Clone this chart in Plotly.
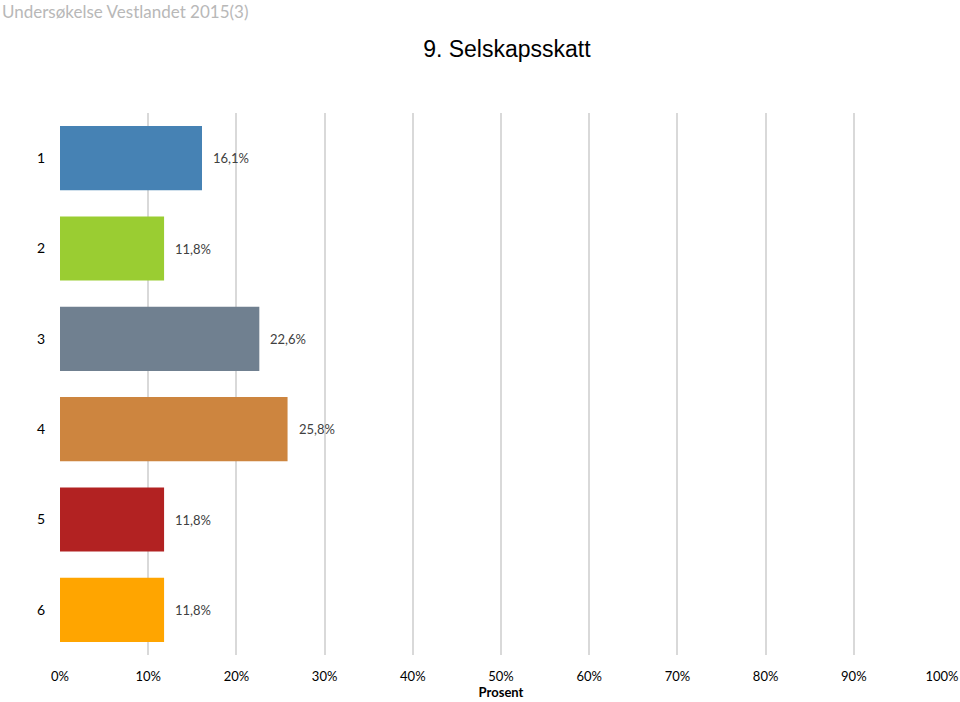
import plotly.graph_objects as go

categories = ["1", "2", "3", "4", "5", "6"]
values = [16.1, 11.8, 22.6, 25.8, 11.8, 11.8]
colors = ["#4682B4", "#9ACD32", "#708090", "#CD853F", "#B22222", "#FFA500"]
x_ticks = list(range(0, 101, 10))
x_tick_labels = [f"{t}%" for t in x_ticks]
label_texts = [f"{v:.1f}%".replace(".", ",") for v in values]

font_family = "Lato, Open Sans, sans-serif"

fig = go.Figure()
fig.add_trace(go.Bar(
    x=values, y=categories, orientation="h",
    marker=dict(color=colors, line=dict(width=0)),
    hoverinfo="skip",
))

for i, (v, t) in enumerate(zip(values, label_texts)):
    fig.add_annotation(x=v, y=i, text=t, showarrow=False, xanchor="left",
                       xshift=9, font=dict(size=13, color="#404040", family=font_family))

fig.update_layout(
    width=960, height=702,
    margin=dict(l=60, r=18, t=113, b=47),
    paper_bgcolor="white", plot_bgcolor="white",
    bargap=0.29,
    showlegend=False,
    title=dict(text="9. Selskapsskatt", x=0.528, xanchor="center", y=0.93, yanchor="middle",
               font=dict(size=23, color="#000000", family="Liberation Sans Narrow, Liberation Sans, Arial, sans-serif")),
    xaxis=dict(range=[0, 100], tickvals=x_ticks, ticktext=x_tick_labels, automargin=False,
               showgrid=True, gridcolor="#d9d9d9", gridwidth=1.5, zeroline=False,
               showline=False, ticklabelstandoff=12,
               tickfont=dict(size=13, color="#000000", family=font_family),
               title=dict(text="<b>Prosent</b>", standoff=4,
                          font=dict(size=13, color="#000000", family=font_family))),
    yaxis=dict(type="category", categoryorder="array", categoryarray=categories, autorange="reversed",
               automargin=False,
               showgrid=False, zeroline=False, showline=False, ticklabelstandoff=14,
               tickfont=dict(size=14, color="#000000", family=font_family)),
)

fig.add_annotation(xref="paper", yref="paper", x=-60/882, y=1 + 113/542, xanchor="left", yanchor="top",
                   yshift=1, text="Undersøkelse Vestlandet 2015(3)", showarrow=False,
                   font=dict(size=17, color="#b8b8b8", family=font_family))

fig.write_html("out.html", config={"displayModeBar": False},
               post_script="document.body.style.margin='0';")
